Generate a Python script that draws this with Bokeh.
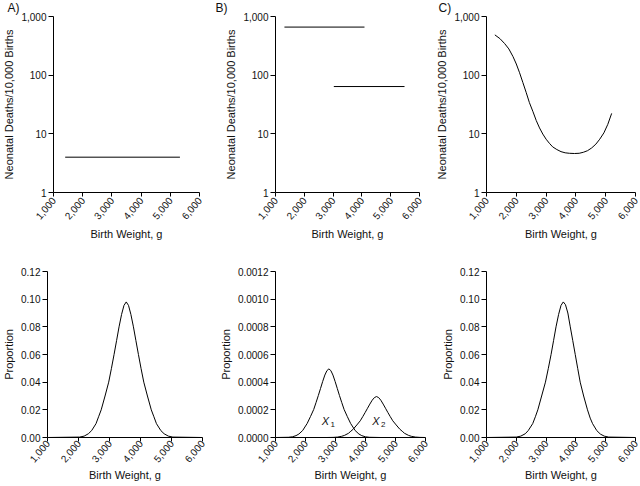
import math
from bokeh.plotting import figure
from bokeh.layouts import column, row
from bokeh.models import Range1d, FixedTicker, NumeralTickFormatter, Title
from bokeh.embed import file_html
from bokeh.resources import INLINE
from bokeh.core.properties import value

# ---------------- data ----------------
weight_ticks = [1000, 2000, 3000, 4000, 5000, 6000]
rate_ticks = [1, 10, 100, 1000]
prop_ticks = [0.0, 0.02, 0.04, 0.06, 0.08, 0.10, 0.12]
prop_ticks_b = [0.0, 0.0002, 0.0004, 0.0006, 0.0008, 0.0010, 0.0012]

# Panel A: constant mortality
a_rate_x = [1400, 5330]
a_rate_y = [4, 4]
# Panel B: two sub-populations
b_rate1_x = [1310, 4090]
b_rate1_y = [660, 660]
b_rate2_x = [3025, 5480]
b_rate2_y = [64, 64]
# Panel C: reverse-J mortality curve
c_rate_x = [1280, 1450, 1610, 1750, 1890, 2000, 2110, 2220, 2330, 2440, 2560, 2670,
            2780, 2890, 3000, 3110, 3220, 3360, 3500, 3640, 3780, 3950, 4110, 4250,
            4390, 4530, 4670, 4800, 4940, 5070, 5200]
c_rate_y = [486, 420, 345, 280, 207, 155, 110, 75, 51, 34, 23.8, 16.8,
            12.6, 9.9, 8.1, 6.9, 6.0, 5.4, 4.97, 4.75, 4.66, 4.62, 4.66, 4.85,
            5.16, 5.75, 6.67, 8.1, 10.4, 14.5, 22.3]

# Birth-weight distributions (proportion)
a_prop_x = [1000, 2036, 2182, 2318, 2424, 2565, 2648, 2732, 2856, 2974, 3063, 3147, 3228,
            3308, 3390, 3467, 3540, 3613, 3690, 3772, 3852, 3933, 4017, 4106, 4224, 4348,
            4432, 4515, 4656, 4762, 4898, 5044, 6000]
a_prop_y = [0.0, 0.0003, 0.001, 0.0027, 0.005, 0.01, 0.015, 0.02, 0.03, 0.04, 0.05, 0.06,
            0.07, 0.08, 0.089, 0.0955, 0.098, 0.0955, 0.089, 0.08, 0.07, 0.06, 0.05, 0.04,
            0.03, 0.02, 0.015, 0.01, 0.005, 0.0027, 0.001, 0.0003, 0.0]

x1_prop_x = [1000, 1430, 1562, 1684, 1780, 1906, 1980, 2055, 2167, 2273, 2352, 2428, 2500,
             2572, 2645, 2715, 2780, 2845, 2915, 2988, 3060, 3132, 3208, 3287, 3393, 3505,
             3580, 3654, 3780, 3876, 3998, 4130, 4500]
x1_prop_y = [0.0, 0.0000015, 0.000005, 0.0000134, 0.0000253, 0.0000506, 0.0000759,
             0.0001012, 0.0001518, 0.0002024, 0.000253, 0.0003036, 0.0003541, 0.0004047,
             0.0004514, 0.0004836, 0.000496, 0.0004836, 0.0004514, 0.0004047, 0.0003541,
             0.0003036, 0.000253, 0.0002024, 0.0001518, 0.0001012, 0.0000759, 0.0000506,
             0.0000253, 0.0000134, 0.000005, 0.0000015, 0.0]

x2_prop_x = [2700, 2926, 3065, 3195, 3297, 3432, 3511, 3592, 3711, 3825, 3909, 3990, 4067,
             4145, 4223, 4297, 4367, 4437, 4511, 4589, 4667, 4744, 4825, 4909, 5023, 5142,
             5223, 5302, 5437, 5539, 5669, 5808, 6000]
x2_prop_y = [0.0, 0.0000009, 0.000003, 0.000008, 0.0000151, 0.0000302, 0.0000453,
             0.0000604, 0.0000906, 0.0001208, 0.000151, 0.0001812, 0.0002113, 0.0002415,
             0.0002694, 0.0002886, 0.000296, 0.0002886, 0.0002694, 0.0002415, 0.0002113,
             0.0001812, 0.000151, 0.0001208, 0.0000906, 0.0000604, 0.0000453, 0.0000302,
             0.0000151, 0.000008, 0.000003, 0.0000009, 0.0]

c_prop_x = [1000, 2000, 2150, 2300, 2400, 2550, 2640, 2722, 2850, 2978, 3075, 3167, 3250,
            3333, 3420, 3500, 3577, 3650, 3730, 3811, 3895, 3978, 4060, 4144, 4260, 4389,
            4480, 4560, 4700, 4820, 4950, 5100, 6000]
c_prop_y = [0.0, 0.0003, 0.001, 0.0027, 0.005, 0.01, 0.015, 0.02, 0.03, 0.04, 0.05, 0.06,
            0.07, 0.08, 0.089, 0.0955, 0.098, 0.096, 0.090, 0.08, 0.07, 0.06, 0.05, 0.04,
            0.03, 0.02, 0.014, 0.01, 0.005, 0.0025, 0.001, 0.0003, 0.0]

sub_label_x = [2667, 4350]
sub_label_y = [0.000116, 0.000116]
sub_label_main = ["X", "X"]
sub_label_sub = ["1", "2"]

panel_letters = ["A)", "B)", "C)"]

FONT = "Liberation Sans"
TXT = "#111111"


def make_fig(w, h, left, right, top, bottom, y_range, y_ticks, y_fmt, y_label,
             log=False, xstand=1, lstand=3, letter=None, letter_dx=0):
    p = figure(width=w, height=h, min_border_left=left, min_border_right=right,
               min_border_top=top, min_border_bottom=bottom,
               x_range=Range1d(1000, 6000), y_range=y_range,
               y_axis_type="log" if log else "linear",
               output_backend="svg", toolbar_location=None, tools="")
    if letter is not None:
        p.title = Title(text=letter, align="left", offset=letter_dx, standoff=0,
                        text_font=FONT, text_font_size="12px", text_font_style="normal",
                        text_color=TXT, vertical_align="top")
    p.outline_line_color = None
    p.grid.visible = False
    p.background_fill_color = "white"
    p.border_fill_color = "white"
    p.xaxis.ticker = FixedTicker(ticks=weight_ticks)
    p.xaxis.formatter = NumeralTickFormatter(format="0,0")
    p.xaxis.major_label_orientation = 0.87
    p.xaxis.axis_label = "Birth Weight, g"
    p.yaxis.ticker = FixedTicker(ticks=y_ticks)
    p.yaxis.formatter = NumeralTickFormatter(format=y_fmt)
    p.yaxis.axis_label = y_label
    for ax in p.axis:
        ax.axis_line_color = "black"
        ax.axis_line_width = 1
        ax.major_tick_line_color = "black"
        ax.minor_tick_line_color = None
        ax.major_tick_in = 0
        ax.major_tick_out = 5
        ax.major_label_text_font = FONT
        ax.major_label_text_font_size = "10px"
        ax.major_label_text_color = TXT
        ax.major_label_standoff = 2
        ax.axis_label_text_font = FONT
        ax.axis_label_text_font_size = "11px"
        ax.axis_label_text_font_style = "normal"
        ax.axis_label_text_color = TXT
        ax.axis_label_standoff = 3
    p.xaxis.major_label_standoff = xstand
    p.xaxis.axis_label_standoff = lstand
    p.xaxis.major_tick_out = 4
    return p


LINE = dict(line_color="black", line_width=1)

# ---- top row (log mortality) ----
pa = make_fig(213, 245, 47, 14, 0, 53, Range1d(1, 1000), rate_ticks, "0,0",
              "Neonatal Deaths/10,000 Births", log=True, xstand=2, lstand=2,
              letter=panel_letters[0], letter_dx=-46)
pa.line(a_rate_x, a_rate_y, **LINE)

pb = make_fig(219, 245, 62, 13, 0, 53, Range1d(1, 1000), rate_ticks, "0,0",
              "Neonatal Deaths/10,000 Births", log=True, xstand=2, lstand=2,
              letter=panel_letters[1], letter_dx=-60)
pb.line(b_rate1_x, b_rate1_y, **LINE)
pb.line(b_rate2_x, b_rate2_y, **LINE)

pc = make_fig(208, 245, 54, 5, 0, 53, Range1d(1, 1000), rate_ticks, "0,0",
              "Neonatal Deaths/10,000 Births", log=True, xstand=2, lstand=2,
              letter=panel_letters[2], letter_dx=-48)
pc.line(c_rate_x, c_rate_y, **LINE)

# ---- bottom row (distributions) ----
qa = make_fig(213, 241, 47, 11, 26, 49, Range1d(0, 0.12), prop_ticks, "0.00", "Proportion",
              xstand=0, lstand=0)
qa.line(a_prop_x, a_prop_y, **LINE)

qb = make_fig(219, 241, 62, 7, 23, 49, Range1d(0, 0.0012), prop_ticks_b, "0.0000", "Proportion",
              xstand=0, lstand=0)
qb.line(x1_prop_x, x1_prop_y, **LINE)
qb.line(x2_prop_x, x2_prop_y, **LINE)
qb.text(x=sub_label_x, y=sub_label_y, text=sub_label_main, text_font=value(FONT),
        text_font_style="italic", text_font_size="11px", text_color=TXT,
        text_align="center", text_baseline="middle")
qb.text(x=sub_label_x, y=sub_label_y, text=sub_label_sub, text_font=value(FONT),
        text_font_size="8px", text_color=TXT, x_offset=5, y_offset=3,
        text_align="left", text_baseline="middle")

qc = make_fig(208, 241, 54, 5, 21, 49, Range1d(0, 0.12), prop_ticks, "0.00", "Proportion",
              xstand=0, lstand=0)
qc.line(c_prop_x, c_prop_y, **LINE)

layout = column(row(pa, pb, pc), row(qa, qb, qc))
open("out.html", "w").write(file_html(layout, INLINE))
